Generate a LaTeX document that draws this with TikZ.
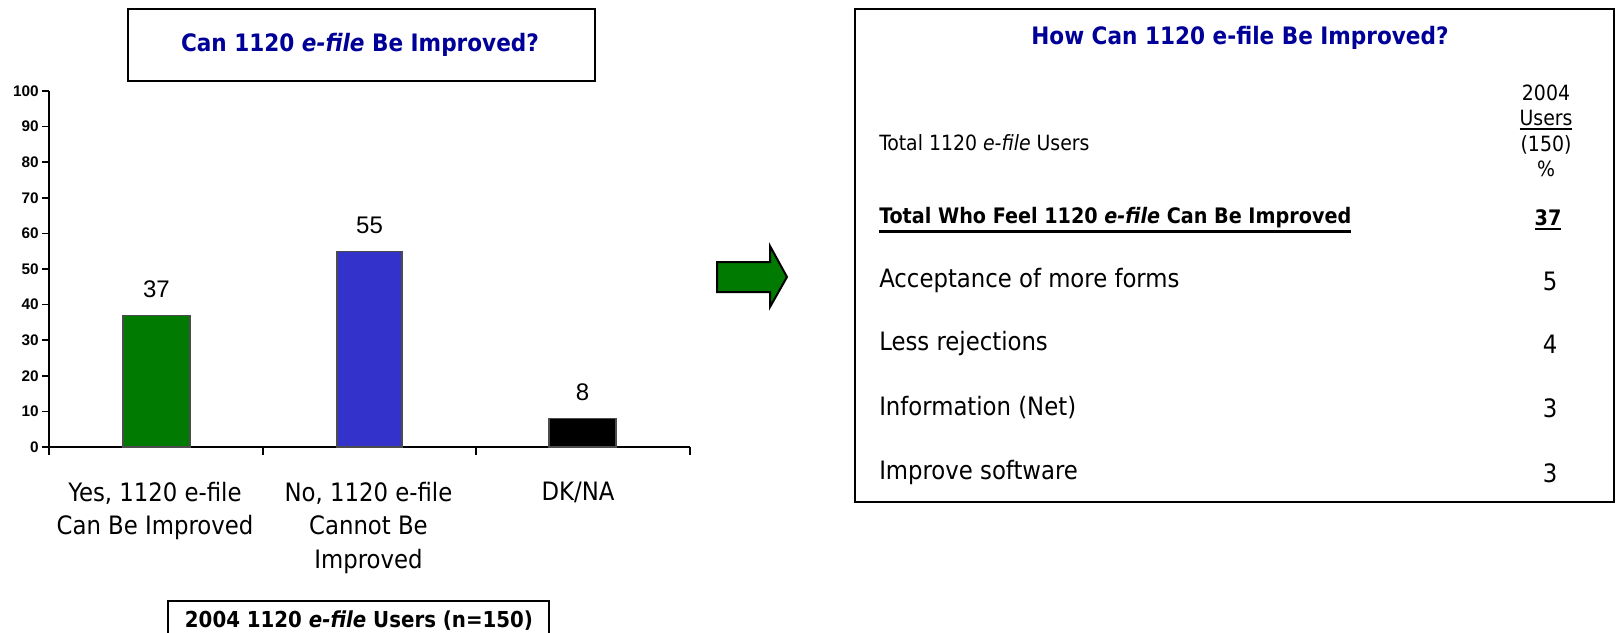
\documentclass[tikz,border=0pt]{standalone}
\usepackage{fontspec}
\setmainfont{DejaVu Sans Condensed}
\newfontfamily\arialf{Liberation Sans}
\definecolor{navy}{RGB}{0,0,153}
\definecolor{bargreen}{RGB}{0,122,0}
\definecolor{barblue}{RGB}{51,51,204}
\newcommand\myul[2][1.6pt]{\leavevmode\vtop{\hbox{#2}\kern1.3pt\hrule height #1}}
\tikzset{
  frame/.style={draw=black, line width=2pt},
  titletext/.style={font=\fontsize{18pt}{21pt}\selectfont\bfseries, text=navy},
  ylab/.style={font=\arialf\fontsize{11.5pt}{13pt}\selectfont\bfseries, anchor=east, inner sep=0pt},
  vallab/.style={font=\arialf\fontsize{18pt}{21pt}\selectfont, inner sep=0pt},
  catlab/.style={font=\fontsize{19pt}{25pt}\selectfont, align=center, anchor=north, inner sep=0pt},
  bar/.style={draw=black!70, line width=0.8pt},
  rowtext/.style={font=\fontsize{19pt}{22pt}\selectfont, anchor=west, inner sep=0pt},
  rownum/.style={font=\fontsize{19pt}{22pt}\selectfont, inner sep=0pt},
  smalltext/.style={font=\fontsize{15.75pt}{19.1pt}\selectfont, inner sep=0pt},
  boldrow/.style={font=\fontsize{16pt}{19pt}\selectfont\bfseries, inner sep=0pt},
}
\begin{document}
\begin{tikzpicture}[x=0.75pt,y=-0.75pt]
\useasboundingbox (0,0) rectangle (1617,632);
% left title
\draw[frame] (128,9) rectangle (595,81);
\node[titletext] (ltitle) at (360,45) {Can 1120 \textit{e-file} Be Improved?};
% axes
\draw[line width=1.2pt] (49,91) -- (49,447) -- (690,447);
\foreach \v in {0,10,...,100}{
  \draw[line width=1.2pt] (42,{447-3.56*\v}) -- (49,{447-3.56*\v});
  \node[ylab] (y\v) at (39,{447-3.56*\v}) {\v};
}
\foreach \xx in {49,263,476,690}{
  \draw[line width=1.2pt] (\xx,447) -- (\xx,455);
}
% bars
\draw[bar, fill=bargreen] (123,447) rectangle (190,{447-3.56*37});
\draw[bar, fill=barblue] (337,447) rectangle (402,{447-3.56*55});
\draw[bar, fill=black] (549,447) rectangle (616,{447-3.56*8});
\node[vallab] (v1) at (156.5,{447-3.56*37-26}) {37};
\node[vallab] (v2) at (369.5,{447-3.56*55-26}) {55};
\node[vallab] (v3) at (582.5,{447-3.56*8-26}) {8};
% category labels
\node[catlab] (c1) at (155,482) {Yes, 1120 e-file\\Can Be Improved};
\node[catlab] (c2) at (368.5,482) {No, 1120 e-file\\Cannot Be\\Improved};
\node[catlab] (c3) at (578,482) {DK/NA};
% bottom box
\begin{scope}
\clip (0,0) rectangle (1617,632);
\draw[frame] (168,601) rectangle (549,650);
\end{scope}
\node[font=\fontsize{16.5pt}{19pt}\selectfont\bfseries, inner sep=0pt] (base) at (359,621) {2004 1120 \textit{e-file} Users (n=150)};
% arrow
\draw[line width=1.5pt, fill=bargreen, line join=miter] (717,262) -- (770,262) -- (770,246) -- (787,277) -- (770,307) -- (770,292) -- (717,292) -- cycle;
% right box
\draw[frame] (855,9) rectangle (1614,502);
\node[titletext] (rtitle) at (1240,38) {How Can 1120 e-file Be Improved?};
\node[smalltext, align=center] (colhead) at (1546,131) {2004\\\myul[1.2pt]{Users}\\(150)\\\%};
\node[smalltext, anchor=west] (tot) at (879,143) {Total 1120 \textit{e-file} Users};
\node[boldrow, anchor=west] (feel) at (879,220) {\myul[2pt]{Total Who Feel 1120 \textit{e-file} Can Be Improved}};
\node[boldrow] (n37) at (1548,220) {\myul[2pt]{37}};
\node[rowtext] (r1) at (879,281) {Acceptance of more forms};
\node[rownum] (n1) at (1550,281) {5};
\node[rowtext] (r2) at (879,344) {Less rejections};
\node[rownum] (n2) at (1550,344) {4};
\node[rowtext] (r3) at (879,408) {Information (Net)};
\node[rownum] (n3) at (1550,408) {3};
\node[rowtext] (r4) at (879,473) {Improve software};
\node[rownum] (n4) at (1550,473) {3};
\end{tikzpicture}
\end{document}
